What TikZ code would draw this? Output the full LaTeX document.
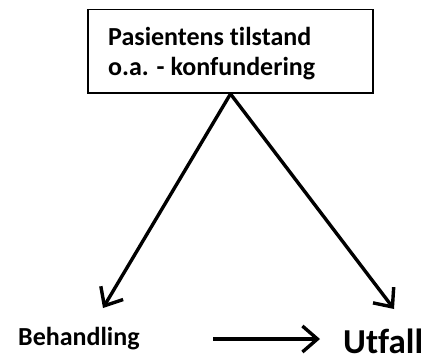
\documentclass[tikz,border=0pt]{standalone}
\usepackage{fontspec}
\setmainfont{Carlito}[Ligatures={NoCommon,NoContextual}]
\usetikzlibrary{arrows.meta}
\begin{document}
\begin{tikzpicture}[x=1pt,y=-1pt,
  conn/.style={line width=3.4pt,-{Straight Barb[length=15pt,width=26pt,line width=3.4pt]}},
  lbl/.style={inner sep=0pt,font=\fontsize{26}{30}\selectfont\bfseries},
  boxst/.style={draw,line width=1.8pt,inner sep=0pt}]
\useasboundingbox (0,0) rectangle (429,357);
\node[boxst,minimum width=285pt,minimum height=83.5pt] (conf) at (230.5,51.25) {};
\node[lbl,anchor=base west] (l1) at (108,45) {Pasientens tilstand};
\node[lbl,anchor=base west] (l2) at (108,75) {o.a. - konfundering};
\node[lbl,anchor=base west] (beh) at (18,345) {Behandling};
\node[inner sep=0pt,font=\fontsize{35}{40}\selectfont\bfseries,anchor=base west] (utf) at (343,353) {Utfall};
\coordinate (tipB) at (103,308);
\coordinate (tipU) at (394,309);
\coordinate (hA) at (213,339);
\coordinate (hB) at (320,339);
\draw[conn] (conf.south) -- (tipB);
\draw[conn] (conf.south) -- (tipU);
\draw[conn] (hA) -- (hB);
\end{tikzpicture}
\end{document}
